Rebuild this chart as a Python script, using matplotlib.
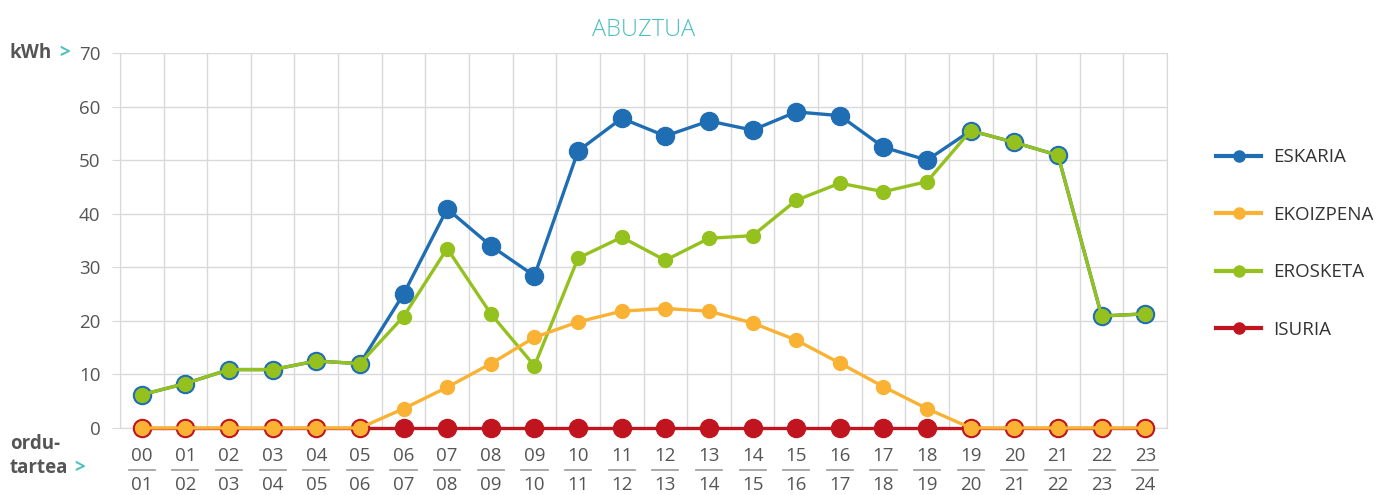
import numpy as np
import matplotlib.pyplot as plt
from matplotlib.lines import Line2D
from matplotlib.transforms import blended_transform_factory

plt.rcParams['font.family'] = ['Open Sans', 'DejaVu Sans']

# --- datuak ---
hours = [f"{h:02d}" for h in range(24)]
hours_end = [f"{h:02d}" for h in range(1, 25)]
eskaria = [6.2, 8.3, 10.9, 10.9, 12.5, 12.0, 25.0, 40.9, 34.0, 28.4, 51.7, 57.8,
           54.5, 57.3, 55.6, 59.0, 58.3, 52.4, 50.0, 55.5, 53.3, 50.9, 20.9, 21.3]
ekoizpena = [0, 0, 0, 0, 0, 0, 3.6, 7.6, 12.0, 16.9, 19.8, 21.8,
             22.3, 21.8, 19.6, 16.4, 12.1, 7.7, 3.6, 0, 0, 0, 0, 0]
erosketa = [6.2, 8.3, 10.9, 10.9, 12.5, 12.0, 20.8, 33.5, 21.3, 11.6, 31.7, 35.6,
            31.3, 35.4, 35.9, 42.5, 45.7, 44.1, 46.0, 55.5, 53.3, 50.9, 20.9, 21.3]
isuria = [0] * 24
yticks = [0, 10, 20, 30, 40, 50, 60, 70]

c_blue = "#1f6db3"
c_orange = "#f9b233"
c_green = "#95c11f"
c_red = "#c0141e"
c_teal = "#4dbfc0"
c_text = "#555555"
c_grid = "#d9d9d9"

fig = plt.figure(figsize=(13.82, 4.95), dpi=100)
ax = fig.add_axes([0.0868, 0.1354, 0.7577, 0.7576])

x = np.arange(24)
ax.plot(x, eskaria, color=c_blue, lw=2.4, marker="o", ms=13, mfc=c_blue, mec=c_blue, zorder=3)
ax.plot(x, erosketa, color=c_green, lw=2.4, marker="o", ms=10, mfc=c_green, mec=c_green, zorder=4)
ax.plot(x, isuria, color=c_red, lw=2.4, marker="o", ms=13, mfc=c_red, mec=c_red, zorder=3, clip_on=False)
ax.plot(x, ekoizpena, color=c_orange, lw=2.4, marker="o", ms=10, mfc=c_orange, mec=c_orange, zorder=4, clip_on=False)

ax.set_xlim(-0.5, 23.5)
ax.set_ylim(0, 70)
ax.set_yticks(yticks)
ax.set_yticklabels([str(v) for v in yticks], fontsize=13.5, color=c_text)
ax.set_xticks(np.arange(-0.5, 24, 1), minor=False)
ax.set_xticklabels([])
ax.tick_params(axis="x", length=0)
ax.tick_params(axis="y", length=6, color=c_grid, pad=8)
ax.grid(True, color=c_grid, lw=1)
ax.set_axisbelow(True)
for s in ax.spines.values():
    s.set_color(c_grid)
ax.spines["top"].set_visible(False)

# x ardatzeko etiketak: "00 / 01"
tr = blended_transform_factory(ax.transData, ax.transAxes)
for i in range(24):
    ax.text(i, -0.075, hours[i], transform=tr, ha="center", va="center", fontsize=13.5, color=c_text)
    ax.text(i, -0.152, hours_end[i], transform=tr, ha="center", va="center", fontsize=13.5, color=c_text)
    ax.plot([i - 0.3, i + 0.3], [-0.111, -0.111], transform=tr, color="#999999", lw=1.2, clip_on=False)

ax.set_title("ABUZTUA", fontsize=17, color=c_teal, fontweight="light", pad=12)

fig.text(0.007, 0.893, "kWh", fontsize=13.5, fontweight="bold", color=c_text, va="center")
fig.text(0.043, 0.893, ">", fontsize=13.5, fontweight="bold", color=c_teal, va="center")
fig.text(0.007, 0.103, "ordu-", fontsize=13.5, fontweight="bold", color=c_text, va="center")
fig.text(0.007, 0.055, "tartea", fontsize=13.5, fontweight="bold", color=c_text, va="center")
fig.text(0.054, 0.055, ">", fontsize=13.5, fontweight="bold", color=c_teal, va="center")

handles = [Line2D([], [], color=c, lw=3, marker="o", ms=8) for c in (c_blue, c_orange, c_green, c_red)]
fig.legend(handles, ["ESKARIA", "EKOIZPENA", "EROSKETA", "ISURIA"], loc="center left",
           bbox_to_anchor=(0.868, 0.508), frameon=False, fontsize=13.5, labelspacing=2.1,
           handlelength=2.4, handletextpad=0.6, labelcolor="#333333")

fig.savefig("out.png", dpi=100)
